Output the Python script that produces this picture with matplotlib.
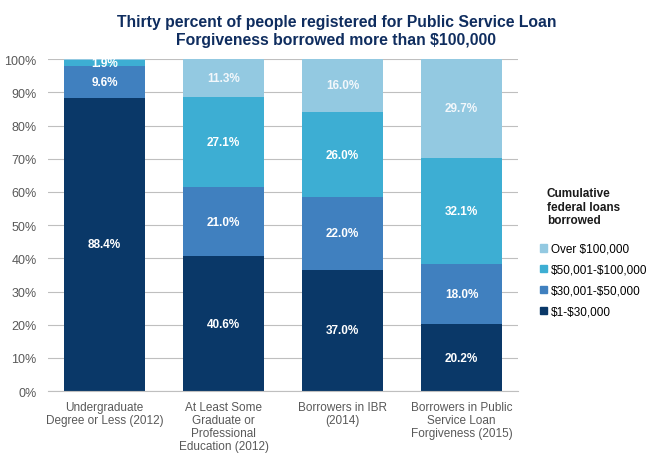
import numpy as np
import matplotlib.pyplot as plt
from matplotlib.patches import Patch

plt.rcParams['font.family'] = ['Liberation Sans', 'DejaVu Sans']

categories = ['Undergraduate\nDegree or Less (2012)',
              'At Least Some\nGraduate or\nProfessional\nEducation (2012)',
              'Borrowers in IBR\n(2014)',
              'Borrowers in Public\nService Loan\nForgiveness (2015)']
series_names = [r'\$1-\$30,000', r'\$30,001-\$50,000', r'\$50,001-\$100,000', r'Over \$100,000']
low     = [88.4, 40.6, 37.0, 20.2]
mid     = [9.6, 21.0, 22.0, 18.0]
high    = [1.9, 27.1, 26.0, 32.1]
top     = [0.1, 11.3, 16.0, 29.7]
top_lbl = ['', '11.3%', '16.0%', '29.7%']
colors = ['#0A3868', '#4080BF', '#3DAED3', '#93C9E1']

fig = plt.figure(figsize=(6.47, 4.56), dpi=100)
ax = fig.add_axes([0.074, 0.14, 0.727, 0.728])

x = np.arange(len(categories))
data = [low, mid, high, top]
# bars are drawn as shares of each column's total (IBR sums to 101)
totals = np.sum(data, axis=0)
bottom = np.zeros(len(categories))
for i, vals in enumerate(data):
    vals = np.array(vals)
    h = vals / totals * 100
    ax.bar(x, h, 0.68, bottom=bottom, color=colors[i], zorder=2)
    for j, v in enumerate(vals):
        lbl = top_lbl[j] if i == 3 else f'{v:.1f}%'
        if lbl:
            yc = min(bottom[j] + h[j] / 2, 98.8)
            ax.text(x[j], yc, lbl, ha='center', va='center', color='white' if i < 3 else '#F2F7FB',
                    fontsize=8.5, fontweight='bold', zorder=3)
    bottom += h

ax.set_ylim(0, 100)
ax.set_xlim(-0.475, 3.475)
ax.set_yticks(np.arange(0, 101, 10))
ax.set_yticklabels([f'{t}%' for t in range(0, 101, 10)], fontsize=9, color='#595959')
ax.set_xticks(x)
ax.set_xticklabels(categories, fontsize=8.5, color='#595959', linespacing=1.12)
ax.tick_params(axis='x', length=0, pad=7)
ax.tick_params(axis='y', length=0, pad=8)
ax.yaxis.grid(True, color='#BFBFBF', linewidth=0.8, zorder=0)
for s in ['top', 'right', 'left']:
    ax.spines[s].set_visible(False)
ax.spines['bottom'].set_color('#BFBFBF')

fig.text(0.52, 0.93, 'Thirty percent of people registered for Public Service Loan\nForgiveness borrowed more than $100,000',
         ha='center', va='center', fontsize=11.3, fontweight='bold', color='#0F2D5F', linespacing=1.25)

handles = [Patch(color=colors[i]) for i in [3, 2, 1, 0]]
labels = [series_names[i] for i in [3, 2, 1, 0]]
leg = fig.legend(handles, labels, loc='upper left', bbox_to_anchor=(0.834, 0.465), frameon=False,
                 fontsize=8.5, handlelength=0.6, handleheight=0.6, handletextpad=0.35, labelspacing=0.75,
                 borderaxespad=0, borderpad=0)
fig.text(0.845, 0.588, 'Cumulative\nfederal loans\nborrowed', ha='left', va='top', fontsize=8.5,
         fontweight='bold', color='#1A1A1A', linespacing=1.2)

fig.savefig('out.png', dpi=100)
